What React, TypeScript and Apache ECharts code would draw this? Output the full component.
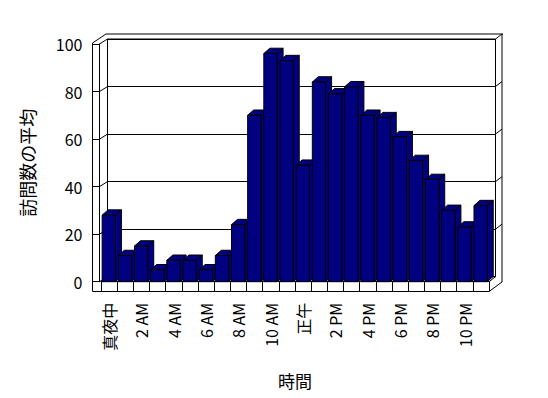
import React, { useEffect, useRef } from "react";
import * as echarts from "echarts";

const hours = [
  "真夜中", "1 AM", "2 AM", "3 AM", "4 AM", "5 AM", "6 AM", "7 AM", "8 AM", "9 AM", "10 AM", "11 AM",
  "正午", "1 PM", "2 PM", "3 PM", "4 PM", "5 PM", "6 PM", "7 PM", "8 PM", "9 PM", "10 PM", "11 PM",
];
const visits = [28, 11, 15, 5, 9, 9, 5, 11, 24, 70, 96, 93, 49, 84, 79, 82, 70, 69, 61, 51, 43, 30, 23, 32];
const yMin = 0;
const yMax = 100;
const yStep = 20;
const yTitle = "訪問数の平均";
const xTitle = "時間";

// frame geometry (layout only)
const W = 548;
const H = 398;
const FL = 101; // front plot left
const FR = 489; // front plot right
const FT = 44; // front top (value 100)
const FB = 281.7; // front bottom (value 0)
const DX = 6.5; // depth offset x
const DY = -5; // depth offset y
const WALL = 7; // wall thickness
const FLOOR = 9.8; // floor thickness
const FONT = "'Noto Sans CJK JP', sans-serif";
const NAVY = "#000080";

const yFront = (v: number) => FB - ((v - yMin) / (yMax - yMin)) * (FB - FT);

export default function App() {
  const ref = useRef<HTMLDivElement>(null);
  useEffect(() => {
    if (!ref.current) return;
    const chart = echarts.init(ref.current, null, { renderer: "svg" });
    const levels: number[] = [];
    for (let v = yMin; v <= yMax; v += yStep) levels.push(v);
    const axL = FL - 1.5;
    const line = (x1: number, y1: number, x2: number, y2: number) => ({
      type: "line",
      z: 0,
      silent: true,
      shape: { x1, y1, x2, y2 },
      style: { stroke: "#000", lineWidth: 1 },
    });
    const graphics: any[] = [];
    // left wall
    graphics.push(line(axL - WALL, FT - 1, axL - WALL, FB + FLOOR));
    graphics.push(line(axL - WALL, FT - 1, FL + 5, FT + 2 * DY));
    graphics.push(line(axL, FT, FL + DX, FT + DY));
    levels.forEach((v) => {
      if (v === yMax) return;
      graphics.push(line(axL, yFront(v), FL + DX, yFront(v) + DY));
    });
    // top edge
    graphics.push(line(FL + 5, FT + 2 * DY, FR + DX + WALL + 0.5, FT + 2 * DY));
    // right side
    graphics.push(line(FR + DX, FT + DY, FR + DX + 6.5, FT + 2 * DY));
    graphics.push(line(FR + DX + 6.5, FT + 2 * DY, FR + DX + 6.5, FB + 0.3));
    levels.forEach((v) => {
      if (v === yMax || v === yMin) return;
      graphics.push(line(FR + DX, yFront(v) + DY, FR + DX + 6.5, yFront(v) + 2 * DY));
    });
    graphics.push(line(FR, FB, FR + DX, FB + DY));
    // floor
    graphics.push(line(axL - WALL, FB + FLOOR, FR, FB + FLOOR));
    graphics.push(line(FR, FB + FLOOR, FR + DX + 6.5, FB + 0.3));

    chart.setOption({
      animation: false,
      backgroundColor: "#fff",
      textStyle: { fontFamily: FONT },
      grid: [
        { left: FL, right: W - FR, top: FT, bottom: H - FB, show: false },
        {
          left: FL + DX,
          right: W - FR - DX,
          top: FT + DY,
          bottom: H - FB - DY,
          show: true,
          borderColor: "#000",
          borderWidth: 1,
          backgroundColor: "transparent",
        },
      ],
      xAxis: [
        {
          type: "category",
          gridIndex: 0,
          data: hours,
          boundaryGap: true,
          axisLine: { show: true, lineStyle: { color: "#000", width: 1 } },
          axisTick: {
            show: true,
            length: FLOOR,
            interval: 0,
            lineStyle: { color: "#000", width: 1 },
          },
          axisLabel: {
            interval: 1,
            rotate: 90,
            margin: 21,
            color: "#000",
            fontSize: 16,
            fontFamily: FONT,
          },
          name: xTitle,
          nameLocation: "middle",
          nameGap: 90,
          nameTextStyle: { color: "#000", fontSize: 17, fontFamily: FONT },
          splitLine: { show: false },
        },
        {
          type: "category",
          gridIndex: 1,
          data: hours,
          show: false,
        },
      ],
      yAxis: [
        {
          type: "value",
          gridIndex: 0,
          min: yMin,
          max: yMax,
          interval: yStep,
          offset: 1.5,
          axisLine: { show: true, lineStyle: { color: "#000", width: 1 } },
          axisTick: { show: true, length: WALL, lineStyle: { color: "#000", width: 1 } },
          axisLabel: { margin: 17, color: "#000", fontSize: 16, fontFamily: FONT },
          splitLine: { show: false },
          name: yTitle,
          nameLocation: "middle",
          nameGap: 64,
          nameRotate: 90,
          nameTextStyle: { color: "#000", fontSize: 18, fontFamily: FONT },
        },
        {
          type: "value",
          gridIndex: 1,
          min: yMin,
          max: yMax,
          interval: yStep,
          axisLine: { show: false },
          axisTick: { show: false },
          axisLabel: { show: false },
          splitLine: { show: true, lineStyle: { color: "#000", width: 1 } },
        },
      ],
      series: [
        {
          type: "custom",
          xAxisIndex: 0,
          yAxisIndex: 0,
          z: 3,
          data: visits.map((v, i) => [i, v]),
          renderItem: (params: any, api: any) => {
            const i = api.value(0);
            const v = api.value(1);
            const top = api.coord([i, v]);
            const base = api.coord([i, 0]);
            const slot = api.size([1, 0])[0];
            const w = slot * 0.82;
            const xl = top[0] - w / 2 - 0.3;
            const xr = xl + w;
            const ty = top[1];
            const by = base[1];
            const dx = 6;
            const dy = -5.3;
            const style = { fill: NAVY, stroke: "#000", lineWidth: 1 };
            return {
              type: "group",
              children: [
                {
                  type: "polygon",
                  shape: { points: [[xr, by], [xr + dx, by + dy], [xr + dx, ty + dy], [xr, ty]] },
                  style,
                },
                {
                  type: "polygon",
                  shape: { points: [[xl, ty], [xl + dx, ty + dy], [xr + dx, ty + dy], [xr, ty]] },
                  style,
                },
                {
                  type: "rect",
                  shape: { x: xl, y: ty, width: w, height: by - ty },
                  style,
                },
              ],
            };
          },
        },
      ],
      graphic: graphics,
    });
    return () => chart.dispose();
  }, []);
  return <div ref={ref} style={{ width: W, height: H, margin: -8 }} />;
}
